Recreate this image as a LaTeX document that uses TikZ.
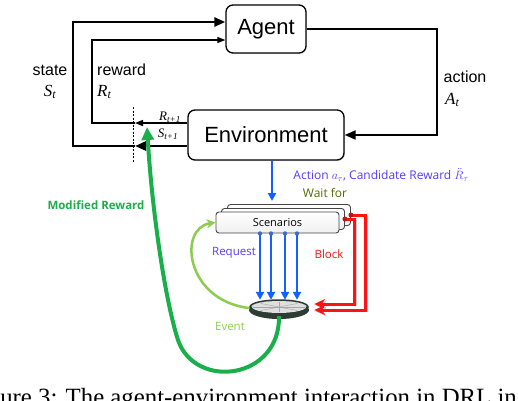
\documentclass[tikz,border=0pt]{standalone}
\usepackage{fontspec}
\setmainfont{Liberation Serif}
\setsansfont{Liberation Sans}
\newfontfamily\smallsans{Open Sans}
\usetikzlibrary{arrows.meta,positioning,shadows,calc,shapes.geometric}
\definecolor{reqblue}{RGB}{20,95,255}
\definecolor{txtblue}{RGB}{85,60,250}
\definecolor{blockred}{RGB}{250,20,20}
\definecolor{modgreen}{RGB}{25,175,75}
\definecolor{eventgreen}{RGB}{140,205,80}
\definecolor{waitolive}{RGB}{85,105,0}
\definecolor{discdark}{RGB}{45,60,50}
\newcommand{\vsym}[2]{{\itshape #1}\textsubscript{\itshape #2}}
\tikzset{
  box/.style={draw,fill=white,rounded corners=7pt,line width=1.3pt,
    font=\sffamily\fontsize{22}{24}\selectfont,
    drop shadow={opacity=0.2,shadow xshift=1pt,shadow yshift=-1pt}},
  lbl/.style={font=\sffamily\fontsize{16}{18}\selectfont,inner sep=0pt},
  sym/.style={font=\fontsize{17}{18}\selectfont,inner sep=0pt},
  symsmall/.style={font=\fontsize{13}{14}\selectfont,inner sep=0pt},
  tag/.style={font=\smallsans\fontsize{11.5}{12}\selectfont,inner sep=0pt},
  scnbox/.style={draw=gray!55!black,top color=white,bottom color=gray!12,
    rounded corners=3pt,line width=0.9pt,minimum width=123pt,minimum height=21pt,
    font=\smallsans\fontsize{11}{12}\selectfont},
  thickflow/.style={line width=2.6pt,-{Triangle[length=11pt,width=9pt]}},
  thinflow/.style={line width=1.4pt,-{Triangle[length=8pt,width=6pt]}},
  req/.style={reqblue,line width=2.6pt,-{Triangle[length=8pt,width=8pt]}},
  block/.style={blockred,line width=3pt,-{Stealth[length=11pt,width=10pt]},
    preaction={draw=black!20,transform canvas={shift={(1.5pt,-1.5pt)}}}},
}

\begin{document}
\begin{tikzpicture}[x=1pt,y=-1pt]
  \clip (0,0) rectangle (518,400);
  % agent and environment
  \node[box,minimum width=80pt,minimum height=48pt] (agent) at (266,29) {Agent};
  \node[box,minimum width=156pt,minimum height=50pt] (env) at (266,135) {Environment};
  \coordinate (cutS) at (135,146);
  \coordinate (cutR) at (135,123);
  \draw[thickflow] ([yshift=-11pt]env.west) -- (cutS);
  \draw[thickflow] (cutS) -- (73,146) -- (73,22) -- ([yshift=7pt]agent.west);
  \draw[thinflow] ([yshift=12pt]env.west) -- (cutR);
  \draw[thinflow] (cutR) -- (92,123) -- (92,40) -- ([yshift=-11pt]agent.west);
  \draw[line width=2pt,-{Triangle[length=11pt,width=9pt]}] (agent.east) -- (437,29) -- (437,135) -- (env.east);
  \draw[dashed,line width=0.8pt,dash pattern=on 2pt off 1.5pt] (133,107) -- (133,162);
  \node[lbl] (state) at (50,70) {state};
  \node[sym] at (50,92) {\vsym{S}{t}};
  \node[lbl,anchor=west] (reward) at (97,70) {reward};
  \node[sym,anchor=west] at (97,92) {\vsym{R}{t}};
  \node[lbl] (action) at (465,77) {action};
  \node[sym,anchor=west] at (445,100) {\vsym{A}{t}};
  \node[symsmall] at (170,117) {\vsym{R}{t+1}};
  \node[symsmall] at (168,134) {\vsym{S}{t+1}};
  % scenarios stack
  \node[scnbox] (scn2) at (289,215) {};
  \node[scnbox] (scn1) at (283,219) {};
  \node[scnbox] (scn) at (277.5,222.5) {Scenarios};
  \draw[req] ([xshift=6pt]env.south) -- (272,201);
  \node[tag,text=txtblue,font=\smallsans\fontsize{12}{13}\selectfont] (cand) at (381,175)
    {Action $a_\tau$, Candidate Reward $\ddot{R}_\tau$};
  \node[tag,text=waitolive,font=\smallsans\fontsize{12}{13}\selectfont] (wait) at (325,193) {Wait for};
  % event disc
  \node[ellipse,minimum width=60pt,minimum height=16pt,inner sep=0pt] (disc) at (279,308) {};
  \fill[discdark] ([yshift=-2pt]disc.center) ellipse (30pt and 9pt);
  \fill[gray!25] ([yshift=1pt]disc.center) ellipse (27pt and 6pt);
  \draw[discdark,line width=1.5pt] ([yshift=1pt]disc.center) ellipse (29pt and 7pt);
  \foreach \a in {0,45,...,315}
    \draw[gray!70,line width=0.4pt] ([yshift=1pt]disc.center) -- ++(\a:26pt and 5pt);
  % request arrows
  \foreach \x in {260,271,285,297} {
    \draw[req] (scn.south -| \x,0) -- (disc.north -| \x,0);
    \fill[gray!40!reqblue] (scn.south -| \x,0) circle (2.2pt);
  }
  \node[tag,text=txtblue] (request) at (234,253) {Request};
  % block arrows
  \draw[block] (scn1.east) -- ++(10,0) |- ([xshift=5pt,yshift=4pt]disc.east);
  \draw[block] (scn2.east) -- ++(15,0) |- ([xshift=5pt,yshift=-2pt]disc.east);
  \fill[blockred!80!black] (scn1.east) circle (2.5pt);
  \fill[blockred!80!black] (scn2.east) circle (2.5pt);
  \node[tag,text=blockred] (blk) at (329,254) {Block};
  % event loop
  \draw[eventgreen,line width=2.5pt,-{Stealth[length=9pt,width=9pt]}]
    (disc.west) .. controls (185,300) and (178,228) .. (scn.west);
  \node[tag,text=eventgreen] (event) at (230,326) {Event};
  % modified reward
  \coordinate (mrtip) at (147,127);
  \draw[modgreen,line width=4pt,-{Triangle[length=13pt,width=12pt]}]
    (disc.south) .. controls (280,380) and (195,390) .. (178,340)
    .. controls (165,300) and (152,210) .. (mrtip);
  \node[tag,text=modgreen,font=\smallsans\bfseries\fontsize{11.5}{12}\selectfont] (modrew) at (96,205) {Modified Reward};
  % caption, cut by the frame
  \node[anchor=base west,inner sep=0pt,font=\fontsize{24.8}{26}\selectfont] (caption) at (-33,405)
    {Figure 3: The agent-environment interaction in DRL in};
\end{tikzpicture}
\end{document}
